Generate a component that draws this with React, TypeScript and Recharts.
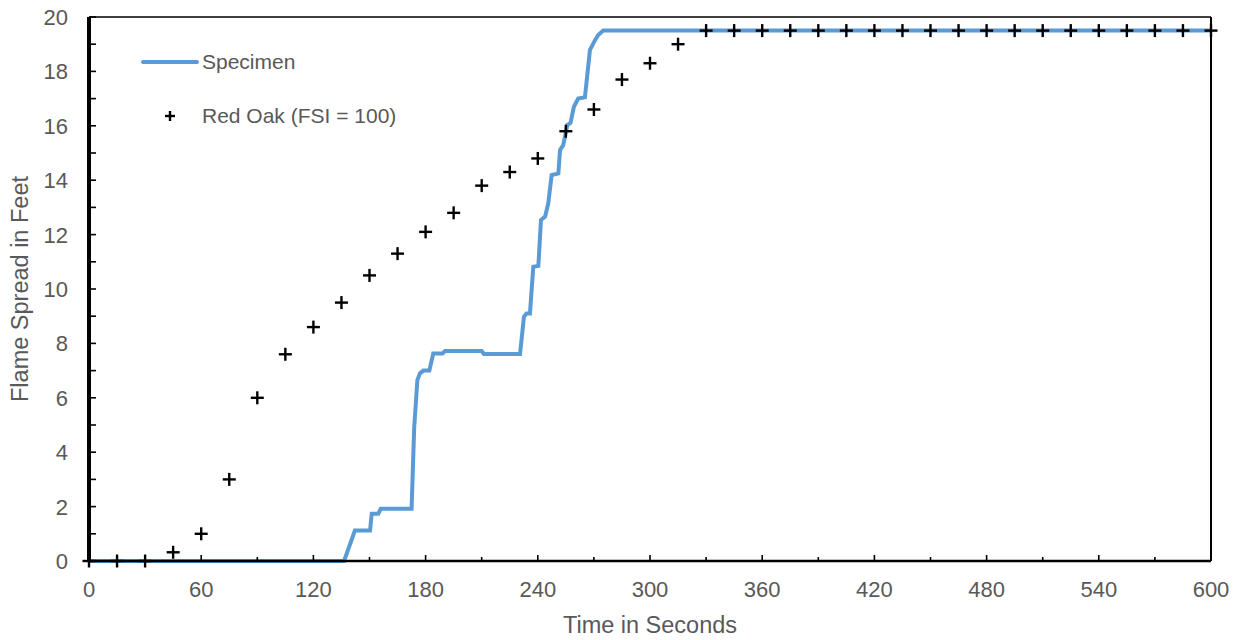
import React from "react";
import {
  ComposedChart,
  Line,
  Scatter,
  XAxis,
  YAxis,
  Legend,
} from "recharts";

// Specimen flame spread: time (s), distance (ft)
const specimenTime = [
  0, 136.4, 142.2, 150.3, 151.2, 154.7, 156.0, 172.5, 173.9, 175.6, 177.0, 178.8,
  182.0, 184.1, 189.1, 190.4, 210.0, 211.2, 230.5, 232.6, 234.0, 235.8, 237.6,
  240.3, 241.7, 243.9, 245.6, 247.4, 251.0, 251.9, 253.6, 255.8, 257.5, 259.3,
  261.6, 265.2, 267.9, 270.6, 272.3, 275.0, 600,
];
const specimenFeet = [
  0, 0, 1.12, 1.12, 1.74, 1.74, 1.92, 1.92, 4.9, 6.65, 6.9, 7.0,
  7.0, 7.63, 7.63, 7.72, 7.72, 7.61, 7.61, 8.98, 9.1, 9.1, 10.82,
  10.85, 12.54, 12.66, 13.15, 14.19, 14.25, 15.11, 15.29, 16.03, 16.11, 16.7,
  17.0, 17.05, 18.79, 19.15, 19.34, 19.5, 19.5,
];

// Red Oak reference (FSI = 100), every 15 s
const oakTime = [
  0, 15, 30, 45, 60, 75, 90, 105, 120, 135, 150, 165, 180, 195, 210, 225, 240,
  255, 270, 285, 300, 315, 330, 345, 360, 375, 390, 405, 420, 435, 450, 465,
  480, 495, 510, 525, 540, 555, 570, 585, 600,
];
const oakFeet = [
  0, 0, 0, 0.32, 1.0, 3.0, 6.0, 7.6, 8.6, 9.5, 10.5, 11.3, 12.1, 12.8, 13.8,
  14.3, 14.8, 15.8, 16.6, 17.7, 18.3, 19.0, 19.5, 19.5, 19.5, 19.5, 19.5, 19.5,
  19.5, 19.5, 19.5, 19.5, 19.5, 19.5, 19.5, 19.5, 19.5, 19.5, 19.5, 19.5, 19.5,
];

const xTicks = [
  0, 30, 60, 90, 120, 150, 180, 210, 240, 270, 300, 330, 360, 390, 420, 450,
  480, 510, 540, 570, 600,
];
const yTicks = [0, 1, 2, 3, 4, 5, 6, 7, 8, 9, 10, 11, 12, 13, 14, 15, 16, 17, 18, 19, 20];

const seriesNames = ["Specimen", "Red Oak (FSI = 100)"];
const xTitle = "Time in Seconds";
const yTitle = "Flame Spread in Feet";

const specimenData = specimenTime.map((t, i) => ({ t, ft: specimenFeet[i] }));
const oakData = oakTime.map((t, i) => ({ t, ft: oakFeet[i] }));

const FONT = "'Liberation Sans', Arial, sans-serif";
const GRAY = "#595959";
const BLUE = "#5B9BD5";

const XTick = (props: any) => {
  const { x, y, payload } = props;
  const v = payload.value;
  const major = v % 60 === 0;
  return (
    <g>
      <line x1={x} x2={x} y1={y} y2={y - (major ? 6 : 4)} stroke="#000" strokeWidth={1.6} />
      {major && (
        <text x={x} y={y + 36} textAnchor="middle" fill={GRAY} fontSize={22} fontFamily={FONT}>
          {v}
        </text>
      )}
    </g>
  );
};

const YTick = (props: any) => {
  const { x, y, payload } = props;
  const v = payload.value;
  const major = v % 2 === 0;
  return (
    <g>
      <line x1={x} x2={x + 7} y1={y} y2={y} stroke="#000" strokeWidth={1.6} />
      {major && (
        <text x={x - 21} y={y + 8} textAnchor="end" fill={GRAY} fontSize={22} fontFamily={FONT}>
          {v}
        </text>
      )}
    </g>
  );
};

const Plus = (props: any) => {
  const { cx, cy } = props;
  const h = 6.5;
  return (
    <g>
      <line x1={cx - h} x2={cx + h} y1={cy} y2={cy} stroke="#000" strokeWidth={2.4} />
      <line x1={cx} x2={cx} y1={cy - h} y2={cy + h} stroke="#000" strokeWidth={2.4} />
    </g>
  );
};

const LegendContent = () => (
  <svg width={420} height={140} style={{ display: "block" }}>
    <line x1={143} x2={197} y1={62} y2={62} stroke={BLUE} strokeWidth={4} strokeLinecap="round" />
    <text x={202} y={69} fill={GRAY} fontSize={21} fontFamily={FONT}>
      {seriesNames[0]}
    </text>
    <line x1={165} x2={175} y1={116} y2={116} stroke="#000" strokeWidth={2.4} />
    <line x1={170} x2={170} y1={111} y2={121} stroke="#000" strokeWidth={2.4} />
    <text x={202} y={123} fill={GRAY} fontSize={21} fontFamily={FONT}>
      {seriesNames[1]}
    </text>
  </svg>
);

export default function App() {
  return (
    <div style={{ position: "absolute", left: 0, top: 0, width: 1239, height: 640, background: "#fff" }}>
      <ComposedChart
        width={1239}
        height={640}
        margin={{ top: 16, right: 27, bottom: 78, left: 88 }}
      >
        <XAxis
          xAxisId="top"
          orientation="top"
          type="number"
          domain={[0, 600]}
          height={1}
          tick={false}
          tickLine={false}
          axisLine={{ stroke: "#000", strokeWidth: 1.6 }}
        />
        <YAxis
          yAxisId="right"
          orientation="right"
          type="number"
          domain={[0, 20]}
          width={1}
          tick={false}
          tickLine={false}
          axisLine={{ stroke: "#000", strokeWidth: 2 }}
        />
        <XAxis
          dataKey="t"
          type="number"
          domain={[0, 600]}
          ticks={xTicks}
          interval={0}
          height={1}
          tickSize={0}
          tickMargin={0}
          tickLine={false}
          tick={<XTick />}
          axisLine={{ stroke: "#000", strokeWidth: 2.5 }}
          label={{
            content: () => (
              <text x={650} y={633} textAnchor="middle" fill={GRAY} fontSize={23.5} fontFamily={FONT}>
                {xTitle}
              </text>
            ),
          }}
        />
        <YAxis
          type="number"
          domain={[0, 20]}
          ticks={yTicks}
          interval={0}
          width={1}
          tickSize={0}
          tickMargin={0}
          tickLine={false}
          tick={<YTick />}
          axisLine={{ stroke: "#000", strokeWidth: 4 }}
          label={{
            content: () => (
              <text
                x={28}
                y={289}
                transform="rotate(-90, 28, 289)"
                textAnchor="middle"
                fill={GRAY}
                fontSize={23.5}
                fontFamily={FONT}
              >
                {yTitle}
              </text>
            ),
          }}
        />
        <Line
          data={specimenData}
          dataKey="ft"
          type="linear"
          stroke={BLUE}
          strokeWidth={4}
          dot={false}
          activeDot={false}
          isAnimationActive={false}
          name={seriesNames[0]}
        />
        <Scatter
          data={oakData}
          dataKey="ft"
          shape={<Plus />}
          isAnimationActive={false}
          name={seriesNames[1]}
        />
        <Legend
          layout="vertical"
          align="center"
          verticalAlign="middle"
          content={<LegendContent />}
          wrapperStyle={{ position: "absolute", left: 0, top: 0, width: 420, height: 140 }}
        />
      </ComposedChart>
    </div>
  );
}
